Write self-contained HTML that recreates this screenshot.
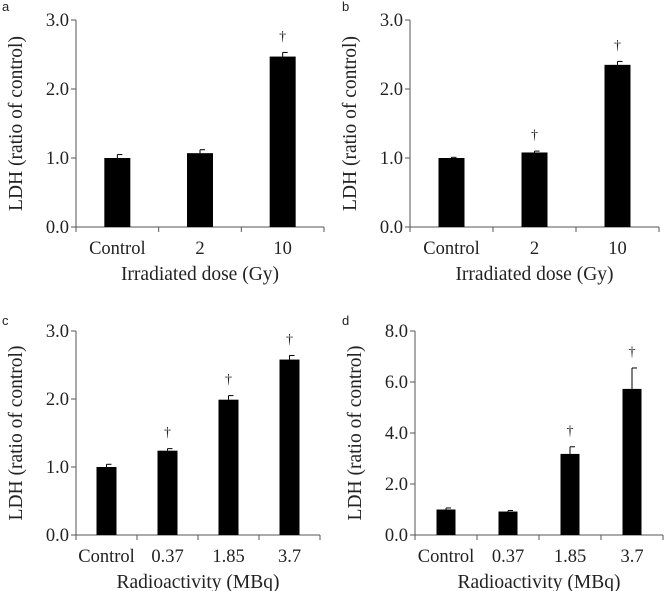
<!DOCTYPE html>
<html><head><meta charset="utf-8"><style>
body{margin:0;background:#fff}
svg{display:block}
text{font-family:"Liberation Serif",serif;fill:#222}
.lbl{font-family:"Liberation Sans",sans-serif;font-size:13px}
</style></head><body>
<svg id="fig" width="666" height="591"></svg>
<script>
const catsA=["Control","2","10"];
const valsA=[1.0,1.07,2.47];
const errA=[0.05,0.05,0.06];
const sigA=[false,false,true];
const catsB=["Control","2","10"];
const valsB=[1.0,1.08,2.35];
const errB=[0.01,0.02,0.05];
const sigB=[false,true,true];
const catsC=["Control","0.37","1.85","3.7"];
const valsC=[1.0,1.24,1.99,2.58];
const errC=[0.04,0.03,0.06,0.06];
const sigC=[false,true,true,true];
const catsD=["Control","0.37","1.85","3.7"];
const valsD=[1.0,0.92,3.18,5.73];
const errD=[0.06,0.04,0.28,0.82];
const sigD=[false,false,true,true];
const ticks3=[0,1,2,3];
const ticks8=[0,2,4,6,8];

const NS="http://www.w3.org/2000/svg";
const svg=document.getElementById('fig');
function mk(tag,attrs,parent,txt){const e=document.createElementNS(NS,tag);for(const k in attrs)e.setAttribute(k,attrs[k]);if(txt!==undefined)e.textContent=txt;parent.appendChild(e);return e;}

function panel(id,letter,lx,ly,x0,x1,yTop,yBot,ymax,ticks,cats,vals,errs,sig,barW,xtitle){
  const g=mk('g',{},svg);
  
  
  const yS=v=>yBot-(v/ymax)*(yBot-yTop);
  const step=(x1-x0)/cats.length;
  const xS=i=>x0+step*(i+0.5);
  const pl=mk('text',{x:lx,y:ly,class:'lbl'},g,letter);
  
  
  mk('line',{x1:x0,y1:yTop,x2:x0,y2:yBot,stroke:'#555','stroke-width':1},g);
  mk('line',{x1:x0,y1:yBot,x2:x1,y2:yBot,stroke:'#555','stroke-width':1},g);
  ticks.forEach(t=>{
    const y=yS(t);
    mk('line',{x1:x0-5,y1:y,x2:x0,y2:y,stroke:'#555'},g);
    const tl=mk('text',{x:x0-7,y:y+6,'text-anchor':'end','font-size':'18.5'},g,t.toFixed(1));
    
    
  });
  for(let i=0;i<=cats.length;i++){const x=x0+step*i;mk('line',{x1:x,y1:yBot,x2:x,y2:yBot+5,stroke:'#555'},g);}
  cats.forEach((c,i)=>{
    const cx=xS(i);
    const top=yS(vals[i]);
    const b=mk('rect',{x:cx-barW/2,y:top,width:barW,height:yBot-top,fill:'#000'},g);
    
    
    const ey=yS(vals[i]+errs[i]);
    mk('line',{x1:cx,y1:top,x2:cx,y2:ey,stroke:'#000','stroke-width':1},g);
    mk('line',{x1:cx,y1:ey,x2:cx+5,y2:ey,stroke:'#000','stroke-width':1},g);
    if(sig[i]){
      const d=mk('text',{x:cx,y:ey-12,'text-anchor':'middle','font-size':'14'},g,'†');
      
      
    }
    const xl=mk('text',{x:cx,y:yBot+27,'text-anchor':'middle','font-size':'18.5'},g,c);
    
    
  });
  const xt=mk('text',{x:(x0+x1)/2,y:yBot+53,'text-anchor':'middle','font-size':'19.5'},g,xtitle);
  
  
  const yc=(yTop+yBot)/2;
  const yt=mk('text',{x:0,y:0,'text-anchor':'middle','font-size':'19.5',transform:`translate(${x0-54},${yc}) rotate(-90)`},g,'LDH (ratio of control)');
  
  
}
panel('a','a',2,11,76,324,20,227,3,ticks3,catsA,valsA,errA,sigA,26,'Irradiated dose (Gy)');
panel('b','b',342,11,410,659,20,227,3,ticks3,catsB,valsB,errB,sigB,26,'Irradiated dose (Gy)');
panel('c','c',2,325,76,320,331,535,3,ticks3,catsC,valsC,errC,sigC,20,'Radioactivity (MBq)');
panel('d','d',342,325,415,663,331,535,8,ticks8,catsD,valsD,errD,sigD,19,'Radioactivity (MBq)');
</script>
</body></html>
